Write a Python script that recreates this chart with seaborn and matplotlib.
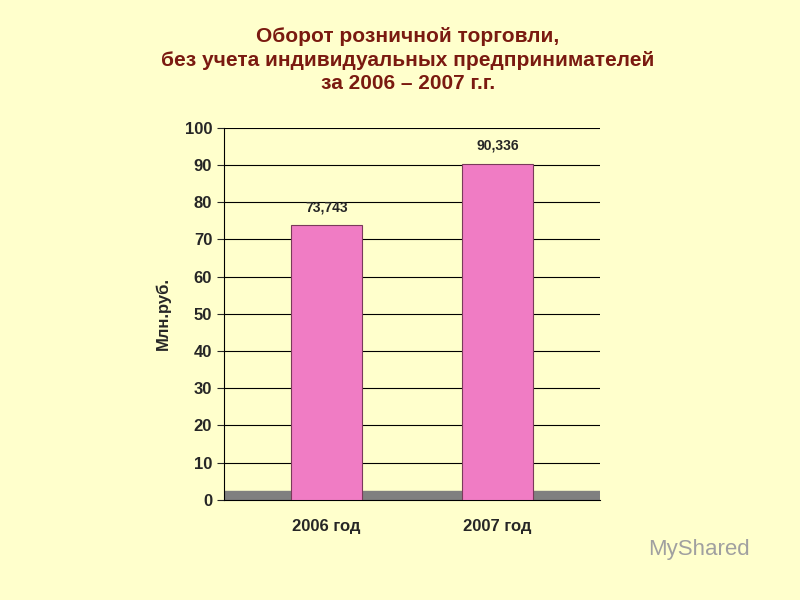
import matplotlib
matplotlib.use('Agg')
import matplotlib.pyplot as plt
import seaborn as sns
import pandas as pd

# Data
years = ['2006 год', '2007 год']
turnover = [73.743, 90.336]
value_labels = ['73,743', '90,336']

sns.set_style('white')
plt.rcParams['font.family'] = ['Liberation Sans', 'DejaVu Sans']

df = pd.DataFrame({'year': years, 'value': turnover})

fig = plt.figure(figsize=(8, 6), dpi=100, facecolor='#FFFFCC')
ax = fig.add_axes([0.28, 0.167, 0.47, 0.62])
ax.set_facecolor('#FFFFCC')

sns.barplot(data=df, x='year', y='value', color='#F07CC4', saturation=1, width=0.42,
            edgecolor='#7A3A5A', linewidth=0.8, ax=ax, zorder=3)

for i, (v, lab) in enumerate(zip(turnover, value_labels)):
    ax.text(i, v + 3, lab, ha='center', va='bottom', fontsize=10, fontweight='bold')

ax.set_ylim(0, 100)
ax.set_yticks(range(0, 101, 10))
ax.yaxis.grid(True, color='black', linewidth=0.8, zorder=0)
ax.tick_params(axis='y', labelsize=12, length=5, direction='out', left=True)
for t in ax.get_yticklabels():
    t.set_fontweight('bold')
ax.tick_params(axis='x', labelsize=12, pad=10)
for t in ax.get_xticklabels():
    t.set_fontweight('bold')
ax.set_xlabel('')
ax.set_ylabel('Млн.руб.', fontsize=12, fontweight='bold', labelpad=10)
ax.set_xlim(-0.6, 1.6)
for s in ['top', 'right']:
    ax.spines[s].set_visible(False)
ax.spines['left'].set_color('black')
ax.spines['bottom'].set_color('black')

# gray floor
ax.axhspan(0, 2.5, color='#808080', zorder=2)

fig.text(0.51, 0.955, 'Оборот розничной торговли,\nбез учета индивидуальных предпринимателей\nза 2006 – 2007 г.г.',
         ha='center', va='top', fontsize=15, fontweight='bold', color='#7A1A10',
         linespacing=1.3)
fig.text(0.81, 0.075, 'MyShared', fontsize=16, color='#A0A0A0')

fig.savefig('out.png', dpi=100, facecolor=fig.get_facecolor())
